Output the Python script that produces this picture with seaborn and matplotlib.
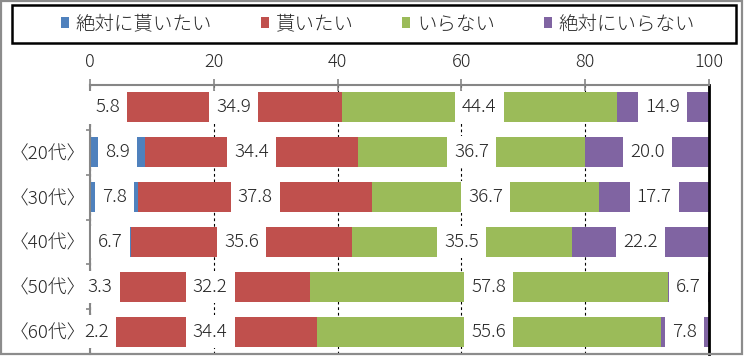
"""
年代別アンケート結果 (100%積み上げ横棒グラフ)
"""
import matplotlib
matplotlib.use("Agg")
import numpy as np
import matplotlib.pyplot as plt
from matplotlib.patches import Patch, Rectangle
import seaborn as sns

# ── data ────────────────────────────────────────────────────────────────
categories = ["", "〈20代〉", "〈30代〉", "〈40代〉", "〈50代〉", "〈60代〉"]
series_names = ["絶対に貰いたい", "貰いたい", "いらない", "絶対にいらない"]
want_absolutely = [5.8, 8.9, 7.8, 6.7, 3.3, 2.2]
want = [34.9, 34.4, 37.8, 35.6, 32.2, 34.4]
not_needed = [44.4, 36.7, 36.7, 35.5, 57.8, 55.6]
not_needed_absolutely = [14.9, 20.0, 17.7, 22.2, 6.7, 7.8]
x_ticks = [0, 20, 40, 60, 80, 100]

colors = ["#4F81BD", "#C0504D", "#9BBB59", "#8064A2"]

# Plot style
sns.set_style("white")
plt.rcParams["font.family"] = ["Noto Sans CJK JP", "DejaVu Sans"]
plt.rcParams["font.weight"] = "light"

values = np.array([want_absolutely, want, not_needed, not_needed_absolutely])
cum = values.cumsum(axis=0)

W, H = 744, 356
fig = plt.figure(figsize=(W / 100, H / 100), dpi=100)
ax = fig.add_axes([90 / W, 2 / H, 619 / W, 269 / H])

# stacked bars: draw cumulative totals from the back to the front
for i in reversed(range(len(series_names))):
    sns.barplot(x=cum[i], y=categories, order=categories, orient="h",
                color=colors[i], saturation=1, width=0.67, errorbar=None,
                linewidth=0, ax=ax)

# value labels on white boxes at segment centres
for i in range(len(series_names)):
    for j in range(len(categories)):
        center = cum[i][j] - values[i][j] / 2
        ax.text(center, j, f"{values[i][j]:.1f}", ha="center", va="center",
                fontsize=13.5, zorder=5,
                bbox=dict(boxstyle="square,pad=0.38", fc="white", ec="none"))

# axes
ax.set_xlim(0, 100)
ax.set_ylim(len(categories) - 0.5, -0.5)
ax.set_xlabel("")
ax.set_ylabel("")
ax.xaxis.tick_top()
ax.set_xticks(x_ticks)
ax.set_xticklabels([str(t) for t in x_ticks], fontsize=13)
ax.tick_params(axis="x", direction="inout", length=8.5, width=1.2,
               color="#868686", pad=5.5, top=True, bottom=False)

ax.set_yticks(range(len(categories)))
ax.set_yticklabels(categories, fontsize=13.5)
ax.set_yticks(np.arange(0.5, len(categories) - 0.5, 1), minor=True)
ax.tick_params(axis="y", which="major", length=0, pad=3)
ax.tick_params(axis="y", which="minor", direction="out", length=3,
               width=1.2, color="#868686", left=True)

ax.set_axisbelow(True)
ax.grid(axis="x", color="black", linestyle=(0, (2.5, 2.5)), linewidth=0.8)
ax.grid(axis="y", visible=False)

for side in ["top", "left"]:
    ax.spines[side].set_color("#868686")
    ax.spines[side].set_linewidth(1.5)
ax.spines["right"].set_color("black")
ax.spines["right"].set_linewidth(2)
ax.spines["bottom"].set_visible(False)

# legend with a wide black frame
handles = [Patch(facecolor=c, edgecolor="none", label=n)
           for c, n in zip(colors, series_names)]
fig.legend(handles=handles, loc="center", bbox_to_anchor=(378 / W, 1 - 24 / H),
           ncol=4, frameon=False, fontsize=14, handlelength=0.42,
           handleheight=0.5, handletextpad=0.35, columnspacing=2.5)
fig.patches.append(Rectangle((12 / W, 1 - 43 / H), 724 / W, 38 / H,
                             transform=fig.transFigure, fill=False,
                             edgecolor="black", linewidth=1.8))

# chart-area border
fig.patches.append(Rectangle((1 / W, 1 - 354 / H), 741 / W, 353 / H,
                             transform=fig.transFigure, fill=False,
                             edgecolor="#8c8c8c", linewidth=1.6))

fig.savefig("out.png", dpi=100)
plt.close(fig)
